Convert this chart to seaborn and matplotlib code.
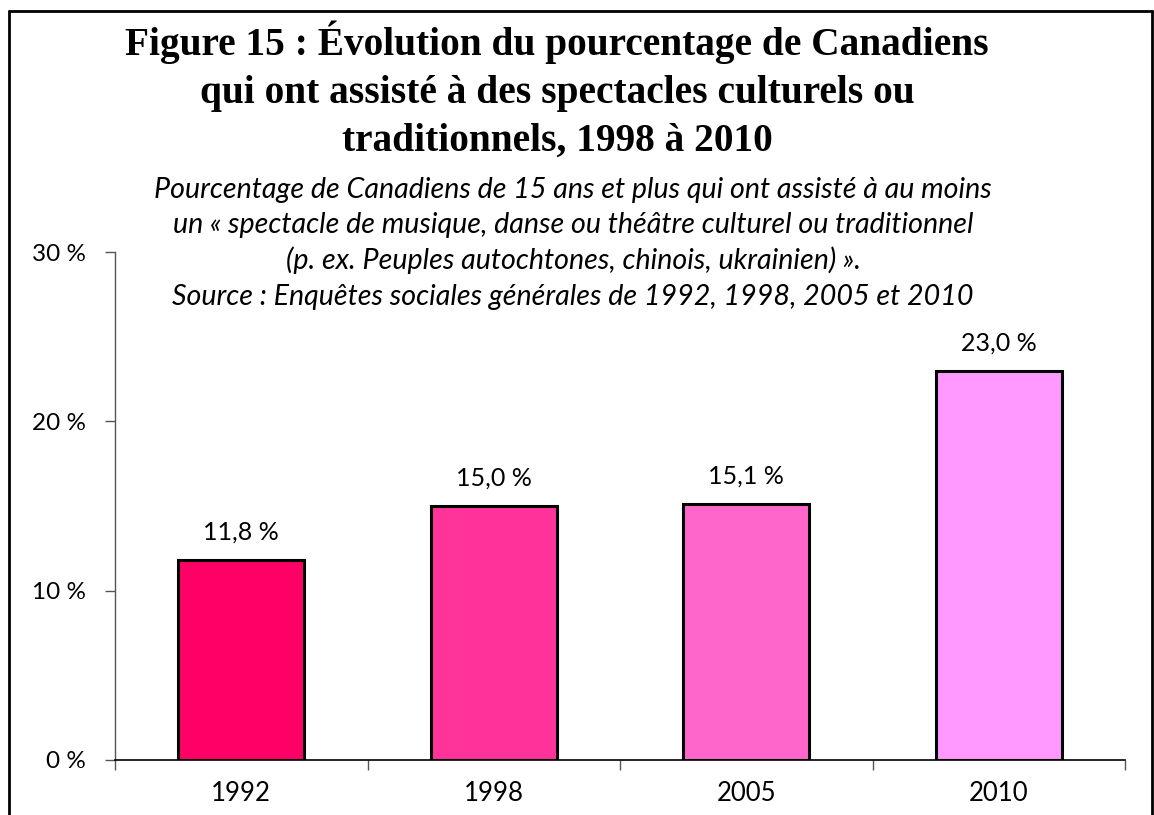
import matplotlib
matplotlib.use("Agg")
import matplotlib.pyplot as plt
import seaborn as sns
import pandas as pd
from matplotlib.lines import Line2D

years = ["1992", "1998", "2005", "2010"]
values = [11.8, 15.0, 15.1, 23.0]
labels = ["11,8 %", "15,0 %", "15,1 %", "23,0 %"]
colors = ["#FF0066", "#FF3399", "#FF66CC", "#FF99FF"]
yticks = [0, 10, 20, 30]
ytick_labels = ["0 %", "10 %", "20 %", "30 %"]

title_lines = ["Figure 15 : Évolution du pourcentage de Canadiens",
               "qui ont assisté à des spectacles culturels ou",
               "traditionnels, 1998 à 2010"]
subtitle_lines = ["Pourcentage de Canadiens de 15 ans et plus qui ont assisté à au moins",
                  "un « spectacle de musique, danse ou théâtre culturel ou traditionnel",
                  "(p. ex. Peuples autochtones, chinois, ukrainien) ».",
                  "Source : Enquêtes sociales générales de 1992, 1998, 2005 et 2010"]

sns.set_style("white")
plt.rcParams['font.family'] = ['Lato', 'DejaVu Sans']
plt.rcParams['text.color'] = 'black'
plt.rcParams['xtick.color'] = 'black'
plt.rcParams['ytick.color'] = 'black'

df = pd.DataFrame({"year": years, "value": values})

W, H = 1154, 815
fig = plt.figure(figsize=(W / 100, H / 100), dpi=100)
ax = fig.add_axes([115 / W, 1 - 760 / H, (1125 - 115) / W, (760 - 252) / H])

sns.barplot(data=df, x="year", y="value", hue="year", palette=colors,
            width=0.5, edgecolor="black", linewidth=2.2, legend=False, ax=ax,
            saturation=1)

for i, (v, lab) in enumerate(zip(values, labels)):
    ax.text(i, v + 1.2, lab, ha="center", va="baseline", fontsize=18)

ax.set_xlim(-0.5, 3.5)
ax.set_ylim(0, 30)
ax.set_yticks(yticks)
ax.set_yticklabels(ytick_labels, fontsize=17.5)
ax.tick_params(axis="x", which="major", length=0, labelsize=18.5, pad=15)
ax.set_xticks([-0.5, 0.5, 1.5, 2.5, 3.5], minor=True)
ax.tick_params(axis="x", which="minor", length=7, width=1, color="#555555",
               direction="out", bottom=True)
ax.tick_params(axis="y", length=7, width=1, color="#555555", direction="out",
               left=True, pad=14)
ax.set_xlabel("")
ax.set_ylabel("")
for s in ["top", "right"]:
    ax.spines[s].set_visible(False)
ax.spines["left"].set_color("#555555")
ax.spines["bottom"].set_color("black")
ax.spines["left"].set_linewidth(1)
ax.spines["bottom"].set_linewidth(1.2)

# title, fitted to the reference width of the first line
title_baselines = [55, 103, 151]
title_texts = []
for line, yb in zip(title_lines, title_baselines):
    t = fig.text(557 / W, 1 - yb / H, line, ha="center", va="baseline",
                 fontsize=27, fontweight="bold", family=["Liberation Serif"])
    title_texts.append(t)
fig.canvas.draw()
r = fig.canvas.get_renderer()
w0 = title_texts[0].get_window_extent(r).width
size = 27 * 865 / w0
for t in title_texts:
    t.set_fontsize(size)

sub_baselines = [198, 233, 269, 305]
sub_texts = []
for line, yb in zip(subtitle_lines, sub_baselines):
    t = fig.text(573 / W, 1 - yb / H, line, ha="center", va="baseline",
                 fontsize=20, style="italic")
    sub_texts.append(t)
fig.canvas.draw()
w1 = sub_texts[0].get_window_extent(r).width
ssize = 20 * 835 / w1
for t in sub_texts:
    t.set_fontsize(ssize)

# border frame (left, top, right)
for xs, ys in [([9, 9], [815, 11]), ([9, 1152], [11, 11]), ([1152, 1152], [11, 815])]:
    fig.add_artist(Line2D([x / W for x in xs], [1 - y / H for y in ys],
                          color="black", lw=2, transform=fig.transFigure))

fig.savefig("out.png", dpi=100)
